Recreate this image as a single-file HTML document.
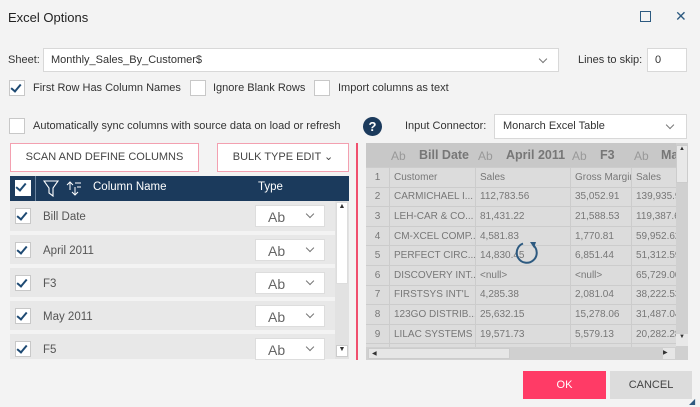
<!DOCTYPE html>
<html><head><meta charset="utf-8"><style>
*{box-sizing:border-box;margin:0;padding:0}
body{width:700px;height:407px;background:#f3f3f3;font-family:"Liberation Sans",sans-serif;font-size:11px;color:#333;position:relative;overflow:hidden}
.a{position:absolute}
.cb{position:absolute;width:16px;height:16px;border:1px solid #c8c8c8;background:#fff}
.ck{position:absolute;left:3px;top:1px;width:6px;height:10px;border-right:2px solid #1e4a73;border-bottom:2px solid #1e4a73;transform:rotate(40deg)}
.sel{position:absolute;background:#fff;border:1px solid #d8d8d8}
.chev{position:absolute;width:6px;height:6px;border-right:1px solid #777;border-bottom:1px solid #777;transform:rotate(45deg)}
.row{position:absolute;left:10px;width:325px;background:#e8e8e8}
.row .t{position:absolute;left:33px;top:10px;font-size:11.5px;color:#555}
.row .dd{position:absolute;left:245px;top:4px;width:70px;height:22px;background:#fff;border:1px solid #ddd}
.row .dd span{position:absolute;left:12px;top:3px;font-size:14px;color:#666}
.g td{border:1px solid #ccc;height:19.6px;padding:0 0 0 4px;font-size:10px;color:#777;white-space:nowrap;overflow:hidden}
</style></head><body>
<div class="a" style="left:8px;top:10px;font-size:13px;color:#222">Excel Options</div>
<div class="a" style="left:640px;top:11px;width:11px;height:11px;border:1.5px solid #2d5a80"></div>
<div class="a" style="left:675px;top:8px;font-size:14px;color:#2d5a80">✕</div>

<div class="a" style="left:8px;top:54px">Sheet:</div>
<div class="sel" style="left:43px;top:48px;width:516px;height:24px"><span class="a" style="left:7px;top:5px">Monthly_Sales_By_Customer$</span><div class="chev" style="left:496px;top:7px"></div></div>
<div class="a" style="left:578px;top:54px">Lines to skip:</div>
<div class="sel" style="left:647px;top:48px;width:40px;height:24px"><span class="a" style="left:7px;top:5px">0</span></div>

<div class="cb" style="left:9px;top:80px"><div class="ck"></div></div>
<div class="a" style="left:33px;top:82px">First Row Has Column Names</div>
<div class="cb" style="left:190px;top:80px"></div>
<div class="a" style="left:213px;top:82px">Ignore Blank Rows</div>
<div class="cb" style="left:314px;top:80px"></div>
<div class="a" style="left:338px;top:82px">Import columns as text</div>

<div class="cb" style="left:9px;top:118px"></div>
<div class="a" style="left:33px;top:120px">Automatically sync columns with source data on load or refresh</div>
<div class="a" style="left:363px;top:117px;width:19px;height:19px;border-radius:50%;background:#1b3a5c;color:#fff;font-weight:bold;font-size:13px;text-align:center;line-height:19px">?</div>
<div class="a" style="left:405px;top:120px">Input Connector:</div>
<div class="sel" style="left:494px;top:114px;width:193px;height:25px"><span class="a" style="left:8px;top:5px">Monarch Excel Table</span><div class="chev" style="left:172px;top:7px"></div></div>

<div class="a" style="left:10px;top:143px;width:189px;height:29px;background:#fff;border:1px solid #f3a0b0;text-align:center;line-height:27px;font-size:11px;color:#444">SCAN AND DEFINE COLUMNS</div>
<div class="a" style="left:217px;top:143px;width:132px;height:29px;background:#fff;border:1px solid #f3a0b0;text-align:center;line-height:27px;font-size:11px;color:#444">BULK TYPE EDIT &#8964;</div>
<div class="a" style="left:356px;top:143px;width:2px;height:217px;background:#f0506e"></div>

<div class="a" style="left:10px;top:176px;width:339px;height:25px;background:#1b3a5c"></div>
<div class="a" style="left:15px;top:180px;width:16px;height:16px;background:#fff"><div class="ck"></div></div>
<div class="a" style="left:35px;top:176px;width:1px;height:25px;background:#6a84a0"></div>
<svg class="a" style="left:43px;top:179px" width="45" height="20"><path d="M1 2 H15 L10 9 V17 L6 14 V9 Z" fill="none" stroke="#fff" stroke-width="1.1"/><path d="M27 3 V11 M24 6 L27 3 L30 6 M32 8 V16 M29 13 L32 16 L35 13 M32 4 H38 M34 8 H38" stroke="#fff" fill="none" stroke-width="1"/></svg>
<div class="a" style="left:93px;top:181px;color:#fff;font-size:11.5px">Column Name</div>
<div class="a" style="left:258px;top:181px;color:#fff;font-size:11.5px">Type</div>

<div class="row" style="top:201px;height:30px"><div class="cb" style="left:5px;top:7px"><div class="ck"></div></div><span class="t">Bill Date</span><div class="dd"><span>Ab</span><div class="chev" style="left:51px;top:5px"></div></div></div>
<div class="row" style="top:235px;height:29px"><div class="cb" style="left:5px;top:7px"><div class="ck"></div></div><span class="t">April 2011</span><div class="dd"><span>Ab</span><div class="chev" style="left:51px;top:5px"></div></div></div>
<div class="row" style="top:268px;height:29px"><div class="cb" style="left:5px;top:7px"><div class="ck"></div></div><span class="t">F3</span><div class="dd"><span>Ab</span><div class="chev" style="left:51px;top:5px"></div></div></div>
<div class="row" style="top:301px;height:29px"><div class="cb" style="left:5px;top:7px"><div class="ck"></div></div><span class="t">May 2011</span><div class="dd"><span>Ab</span><div class="chev" style="left:51px;top:5px"></div></div></div>
<div class="row" style="top:334px;height:25px"><div class="cb" style="left:5px;top:7px"><div class="ck"></div></div><span class="t">F5</span><div class="dd"><span>Ab</span><div class="chev" style="left:51px;top:5px"></div></div></div>
<div class="a" style="left:335px;top:201px;width:14px;height:158px;background:#e2e2e2"></div>
<div class="a" style="left:336px;top:202px;width:12px;height:82px;background:#fff;border:1px solid #ddd;font-size:7px;text-align:center;color:#333">▲</div>
<div class="a" style="left:336px;top:345px;width:12px;height:12px;background:#fff;border:1px solid #ccc;font-size:7px;text-align:center;color:#333">▼</div>

<div class="a" style="left:366px;top:143px;width:322px;height:217px;background:#dcdcdc;overflow:hidden">
<div class="a" style="left:0;top:0;width:322px;height:24px;background:#c8c8c8;font-size:12px;color:#999;white-space:nowrap">
<span class="a" style="left:25px;top:6px">Ab</span><b class="a" style="left:53px;top:5px;font-size:12.5px;color:#777">Bill Date</b>
<span class="a" style="left:112px;top:6px">Ab</span><b class="a" style="left:140px;top:5px;font-size:12.5px;color:#777">April 2011</b>
<span class="a" style="left:206px;top:6px">Ab</span><b class="a" style="left:234px;top:5px;font-size:12.5px;color:#777">F3</b>
<span class="a" style="left:268px;top:6px">Ab</span><b class="a" style="left:295px;top:5px;font-size:12.5px;color:#777">Ma</b></div>
<table class="g a" style="left:-1px;top:24px;border-collapse:collapse;table-layout:fixed;width:320px">
<colgroup><col style="width:24px"><col style="width:86px"><col style="width:95px"><col style="width:61px"><col style="width:54px"></colgroup>
<tr><td style="text-align:center;padding:0">1</td><td>Customer</td><td>Sales</td><td>Gross Margin</td><td>Sales</td></tr>
<tr><td style="text-align:center;padding:0">2</td><td>CARMICHAEL I...</td><td>112,783.56</td><td>35,052.91</td><td>139,935.9</td></tr>
<tr><td style="text-align:center;padding:0">3</td><td>LEH-CAR &amp; CO...</td><td>81,431.22</td><td>21,588.53</td><td>119,387.6</td></tr>
<tr><td style="text-align:center;padding:0">4</td><td>CM-XCEL COMP...</td><td>4,581.83</td><td>1,770.81</td><td>59,952.62</td></tr>
<tr><td style="text-align:center;padding:0">5</td><td>PERFECT CIRC...</td><td>14,830.45</td><td>6,851.44</td><td>51,312.59</td></tr>
<tr><td style="text-align:center;padding:0">6</td><td>DISCOVERY INT...</td><td>&lt;null&gt;</td><td>&lt;null&gt;</td><td>65,729.00</td></tr>
<tr><td style="text-align:center;padding:0">7</td><td>FIRSTSYS INT'L</td><td>4,285.38</td><td>2,081.04</td><td>38,222.53</td></tr>
<tr><td style="text-align:center;padding:0">8</td><td>123GO DISTRIB...</td><td>25,632.15</td><td>15,278.06</td><td>31,487.04</td></tr>
<tr><td style="text-align:center;padding:0">9</td><td>LILAC SYSTEMS</td><td>19,571.73</td><td>5,579.13</td><td>20,282.28</td></tr>
<tr><td></td><td></td><td></td><td></td><td></td></tr>
</table>
<div class="a" style="left:310px;top:0;width:12px;height:204px;background:#d0d0d0"></div>
<div class="a" style="left:310px;top:2px;width:12px;height:38px;background:#e8e8e8;border:1px solid #ccc;font-size:6px;text-align:center">▲</div>
<div class="a" style="left:310px;top:191px;width:12px;height:12px;background:#e8e8e8;font-size:6px;text-align:center">▼</div>
<div class="a" style="left:0;top:204px;width:322px;height:13px;background:#d0d0d0"></div>
<div class="a" style="left:2px;top:205px;width:142px;height:11px;background:#e6e6e6;border:1px solid #ccc;font-size:6px;line-height:10px;padding-left:3px">◀</div>
<div class="a" style="left:297px;top:205px;width:12px;height:11px;background:#e6e6e6;font-size:6px;line-height:10px">▶</div>
</div>
<svg class="a" style="left:513px;top:239px" width="28" height="28"><path d="M20 6 A10 10 0 1 1 10 4.5" fill="none" stroke="#2d5a80" stroke-width="2"/><path d="M17 3 L23 3 L21 9 Z" fill="#2d5a80"/></svg>

<div class="a" style="left:523px;top:371px;width:83px;height:28px;background:#ff3b66;color:#fff;text-align:center;line-height:28px;font-size:11px">OK</div>
<div class="a" style="left:610px;top:371px;width:82px;height:28px;background:#dcdcdc;color:#444;text-align:center;line-height:28px;font-size:11px">CANCEL</div>
<div class="a" style="left:689px;top:397px;font-size:8px;color:#2d5a80">◢</div>
</body></html>
